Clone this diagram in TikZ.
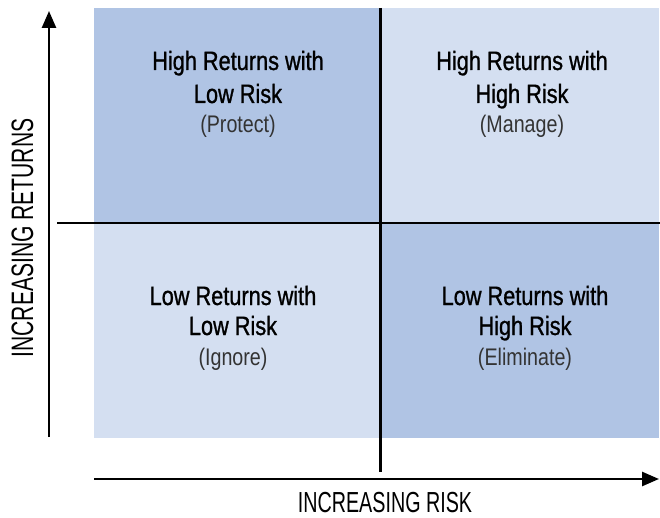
\documentclass[tikz,border=0pt]{standalone}
\usepackage{fontspec}
\setmainfont[FakeStretch=0.82]{Liberation Sans}
\newfontfamily\titlefont[FakeStretch=0.82,FakeBold=1]{Liberation Sans}
\newfontfamily\axisfont[FakeStretch=0.68]{Liberation Sans}
\usetikzlibrary{arrows.meta}

\definecolor{quaddark}{HTML}{B0C4E4}
\definecolor{quadlight}{HTML}{D4DFF1}

\tikzset{
  quadtitle/.style={anchor=base, font=\titlefont\fontsize{26.5}{32}\selectfont},
  quadnote/.style={anchor=base, font=\fontsize{24}{30}\selectfont, text=black!80},
  axisline/.style={line width=2.6pt, -{Triangle[length=17pt,width=14pt]}},
  splitline/.style={line width=2.7pt},
  axislabel/.style={anchor=base, text depth=0pt, inner sep=1pt, font=\axisfont\fontsize{29}{32}\selectfont}
}

\begin{document}
\begin{tikzpicture}[x=1pt,y=-1pt]
    \useasboundingbox (0,0) rectangle (660,518);

    % Quadrants
    \fill[quaddark]  (94,8)   rectangle (380,223);
    \fill[quadlight] (380,8)  rectangle (659,223);
    \fill[quadlight] (94,223) rectangle (380,438);
    \fill[quaddark]  (380,223) rectangle (659,438);

    % Dividing lines
    \coordinate (vtop) at (380.5,8);
    \coordinate (vbot) at (380.5,472);
    \coordinate (hleft) at (57,223);
    \coordinate (hright) at (660,223);
    \draw[splitline] (vtop) -- (vbot);
    \draw[splitline] (hleft) -- (hright);

    % Axes
    \coordinate (yfoot) at (49,437);
    \coordinate (ytip) at (49,11);
    \coordinate (xfoot) at (94,479);
    \coordinate (xtip) at (659,479);
    \draw[axisline] (yfoot) -- (ytip);
    \draw[axisline] (xfoot) -- (xtip);

    % Top left
    \node[quadtitle] (tla) at (238,70)  {High Returns with};
    \node[quadtitle] (tlb) at (238,103) {Low Risk};
    \node[quadnote]  (tlc) at (238,133) {(Protect)};

    % Top right
    \node[quadtitle] (tra) at (522,70)  {High Returns with};
    \node[quadtitle] (trb) at (522,103) {High Risk};
    \node[quadnote]  (trc) at (522,133) {(Manage)};

    % Bottom left
    \node[quadtitle] (bla) at (233,305) {Low Returns with};
    \node[quadtitle] (blb) at (233,335) {Low Risk};
    \node[quadnote]  (blc) at (233,365) {(Ignore)};

    % Bottom right
    \node[quadtitle] (bra) at (525,305) {Low Returns with};
    \node[quadtitle] (brb) at (525,335) {High Risk};
    \node[quadnote]  (brc) at (525,365) {(Eliminate)};

    % Axis labels
    \node[axislabel] (xlabel) at (385,512) {INCREASING RISK};
    \node[axislabel, rotate=90, font=\axisfont\fontsize{31}{32}\selectfont] (ylabel) at (33,238) {INCREASING RETURNS};
\end{tikzpicture}
\end{document}
